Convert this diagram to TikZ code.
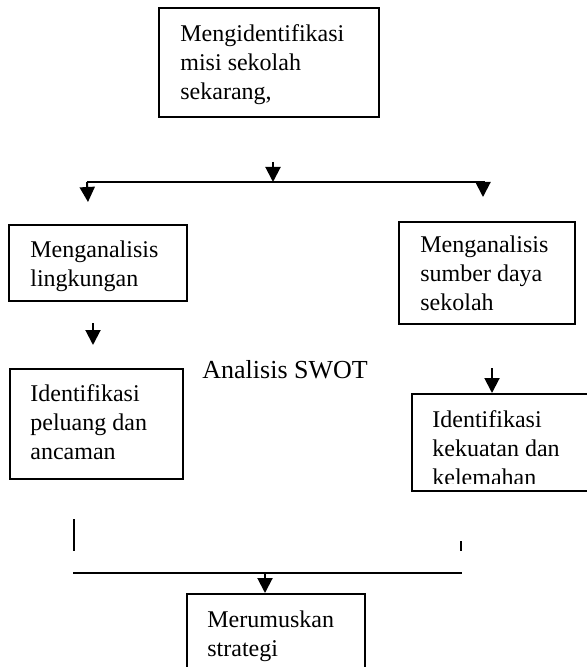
\documentclass[tikz,border=0pt]{standalone}
\usepackage{fontspec}
\setmainfont{Liberation Serif}
\usetikzlibrary{arrows.meta,positioning}

\begin{document}
\begin{tikzpicture}[
    x=0.5pt, y=-0.5pt,
    box/.style={draw, line width=1pt, inner sep=0pt, anchor=north west},
    txt/.style={anchor=base west, inner sep=0pt, align=left, font=\fontsize{12}{14.5}\selectfont},
    arr/.style={-{Triangle[length=7.5pt, width=7.5pt]}, line width=1pt},
    conn/.style={-, line width=1pt}
]
\useasboundingbox (0,0) rectangle (586,667);

% --- Misi ---
\node[box, minimum width=110pt, minimum height=54.5pt] (misi) at (158,7) {};
\node[txt] (misit) at (180,100) {Mengidentifikasi\\misi sekolah\\sekarang,};

\coordinate (tS) at (273,162);
\coordinate (bC) at (273,182);
\coordinate (bL) at (87,182);
\coordinate (bR) at (485,182);
\coordinate (aL) at (88,202);
\coordinate (cR) at (483,182);
\coordinate (aR) at (483,197);

\draw[conn] (bL) -- (bR);
\draw[arr] (tS) -- (bC);
\draw[arr] (bL) -- (aL);
\draw[arr] (cR) -- (aR);

% --- Lingkungan ---
\node[box, minimum width=89pt, minimum height=38pt] (envL) at (8,224) {};
\begin{scope}
    \clip (envL.north west) rectangle ([yshift=4.5pt]envL.south east);
    \node[txt] (envLt) at (30,287) {Menganalisis\\lingkungan};
\end{scope}

\coordinate (lS) at (93,323);
\coordinate (lE) at (93,345);
\draw[arr] (lS) -- (lE);

\node[box, minimum width=86.5pt, minimum height=55pt] (peluang) at (9,368) {};
\node[txt] (peluangt) at (30,459) {Identifikasi\\peluang dan\\ancaman};

% --- Sumber daya ---
\node[box, minimum width=88pt, minimum height=51pt] (envR) at (398,221) {};
\begin{scope}
    \clip (envR.north west) rectangle ([yshift=4.5pt]envR.south east);
    \node[txt] (envRt) at (420,311) {Menganalisis\\sumber daya\\sekolah};
\end{scope}

\coordinate (rS) at (492,368);
\draw[arr] (rS) -- (rS |- 0,393);

\node[box, minimum width=100pt, minimum height=48.5pt] (kekuatan) at (411,393) {};
\begin{scope}
    \clip (kekuatan.north west) rectangle ([yshift=4.5pt]kekuatan.south east);
    \node[txt] (kekuatant) at (432,485) {Identifikasi\\kekuatan dan\\kelemahan};
\end{scope}

\node[anchor=base west, inner sep=0pt, font=\fontsize{13}{15}\selectfont] (swot) at (202,378) {Analisis SWOT};

% --- Strategi ---
\coordinate (vL1) at (74,519);
\coordinate (vL2) at (74,551);
\coordinate (vR1) at (461,541);
\coordinate (vR2) at (461,551);
\coordinate (hL) at (73,573);
\coordinate (hR) at (462,573);
\coordinate (jB) at (265,573);

\draw[conn] (vL1) -- (vL2);
\draw[conn] (vR1) -- (vR2);
\draw[conn] (hL) -- (hR);

\node[box, minimum width=89pt, minimum height=45pt] (strategi) at (186,593) {};
\node[txt] (strategit) at (207,656) {Merumuskan\\strategi};

\draw[arr] (jB) -- (jB |- strategi.north);

\end{tikzpicture}
\end{document}
